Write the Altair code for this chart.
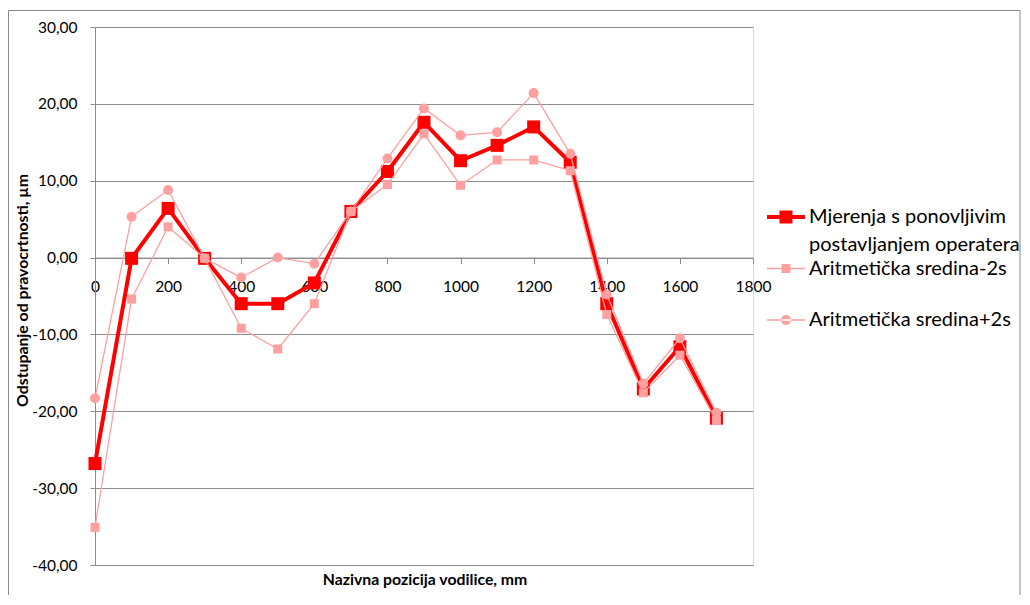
import altair as alt
import pandas as pd

positions = [0, 100, 200, 300, 400, 500, 600, 700, 800, 900, 1000, 1100, 1200, 1300, 1400, 1500, 1600, 1700]
series_main = [-26.8, -0.1, 6.4, -0.1, -6.0, -6.0, -3.3, 6.0, 11.2, 17.6, 12.6, 14.6, 17.0, 12.4, -6.0, -17.1, -11.6, -20.9]
series_minus = [-35.1, -5.4, 4.0, -0.1, -9.2, -11.9, -6.0, 6.0, 9.5, 16.1, 9.4, 12.7, 12.7, 11.3, -7.4, -17.6, -12.7, -21.2]
series_plus = [-18.3, 5.3, 8.8, -0.1, -2.6, 0.0, -0.8, 6.0, 12.9, 19.4, 15.9, 16.3, 21.4, 13.5, -4.8, -16.4, -10.5, -20.2]
names = ["Mjerenja s ponovljivim postavljanjem operatera", "Aritmetička sredina-2s", "Aritmetička sredina+2s"]
name_first_line = "Mjerenja s ponovljivim"
name_second_line = "postavljanjem operatera"
colors = ["#ff0000", "#ffa0a0", "#ffa0a0"]
x_ticks = [0, 200, 400, 600, 800, 1000, 1200, 1400, 1600, 1800]
y_ticks = [-40, -30, -20, -10, 0, 10, 20, 30]
x_title = "Nazivna pozicija vodilice, mm"
y_title = "Odstupanje od pravocrtnosti, µm"

rows = []
for name, vals in zip(names, [series_main, series_minus, series_plus]):
    for p, v in zip(positions, vals):
        rows.append({"pos": p, "val": v, "series": name})
df = pd.DataFrame(rows)

W, H = 658, 538
FONT = "Lato"
GRID = "#8c8c8c"

xscale = alt.Scale(domain=[0, 1800], nice=False)
yscale = alt.Scale(domain=[-40, 30], nice=False)

x_enc = alt.X("pos:Q", scale=xscale, axis=alt.Axis(
    values=x_ticks, grid=False, title=None, offset=-H * 40 / 70, format="d",
    domainColor=GRID, tickColor=GRID, tickSize=6, labelPadding=16,
    labelFontSize=15.5, labelColor="#000000", labelFont=FONT, labelFlush=False))
y_enc = alt.Y("val:Q", scale=yscale, axis=alt.Axis(
    values=y_ticks, grid=True, gridColor=GRID, domainColor=GRID, tickColor=GRID,
    tickSize=5, labelPadding=13, labelFontSize=15.5, labelColor="#000000", labelFont=FONT,
    labelExpr="replace(replace(format(datum.value, '.2f'), '.', ','), '\u2212', '-')",
    title=y_title, titleFont=FONT, titleFontSize=15.8,
    titleFontWeight="bold", titleColor="#000000", titleX=-73, titleY=263,
    titleAngle=270, titleAlign="center", titleBaseline="middle"))

# legend symbols: a short line with the marker, in a 50px box (coords -1..1)
path_main = "M-0.68,-0.08L0.84,-0.08L0.84,0.08L-0.68,0.08Z M-0.18,-0.26L0.34,-0.26L0.34,0.26L-0.18,0.26Z"
path_minus = "M-0.68,-0.027L0.84,-0.027L0.84,0.027L-0.68,0.027Z M-0.1,-0.18L0.26,-0.18L0.26,0.18L-0.1,0.18Z"
path_plus = "M-0.68,-0.027L0.84,-0.027L0.84,0.027L-0.68,0.027Z M-0.12,0A0.2,0.2 0 1,0 0.28,0A0.2,0.2 0 1,0 -0.12,0Z"

legend = alt.Legend(
    title=None, orient="none", legendX=664, legendY=165, padding=0,
    symbolSize=2500, symbolStrokeWidth=0, labelFont=FONT, labelFontSize=20, labelColor="#000000",
    labelOffset=0, labelLimit=400, rowPadding=16.5,
    labelExpr=f"datum.label == '{names[0]}' ? '{name_first_line}' : datum.label")

base = alt.Chart(df)
layers = []
styles = [("square", 169, 4.0), ("square", 81, 1.3), ("circle", 100, 1.3)]
for name, col, (shape, size, sw) in zip(names, colors, styles):
    sub = base.transform_filter(alt.datum.series == name)
    line = sub.mark_line(color=col, strokeWidth=sw, strokeJoin="round").encode(x=x_enc, y=y_enc)
    pts = sub.mark_point(shape=shape, size=size, filled=True, opacity=1, color=col).encode(
        x=x_enc, y=y_enc)
    layers += [line, pts]

legend_layer = base.transform_filter("false").mark_point(filled=True, opacity=1).encode(
    x=x_enc, y=y_enc,
    color=alt.Color("series:N", scale=alt.Scale(domain=names, range=colors), legend=legend),
    shape=alt.Shape("series:N", scale=alt.Scale(domain=names, range=[path_main, path_minus, path_plus]),
                    legend=legend),
)

legend_line2 = alt.Chart(alt.Data(values=[{"t": name_second_line}])).mark_text(
    font=FONT, fontSize=20, color="#000000", align="left", baseline="middle").encode(
    text="t:N", x=alt.value(714), y=alt.value(218))

border = alt.Chart(alt.Data(values=[{}])).mark_rect(
    fillOpacity=0, stroke="#8a8a8a", strokeWidth=1).encode(
    x=alt.value(-86.5), x2=alt.value(925), y=alt.value(-16.5), y2=alt.value(700))

xtitle_layer = alt.Chart(alt.Data(values=[{"t": x_title}])).mark_text(
    font=FONT, fontSize=15.8, fontWeight="bold", color="#000000", align="center",
    baseline="middle").encode(text="t:N", x=alt.value(W / 2 + 1), y=alt.value(H + 15))

chart = alt.layer(border, *layers, legend_layer, legend_line2, xtitle_layer).properties(
    width=W, height=H,
    autosize=alt.AutoSizeParams(type="none"),
    padding={"left": 87, "top": 19, "right": 269, "bottom": 30},
).configure_view(stroke=None).configure(background="#ffffff")

chart.save("out.html", embed_options={"renderer": "svg", "actions": False})
